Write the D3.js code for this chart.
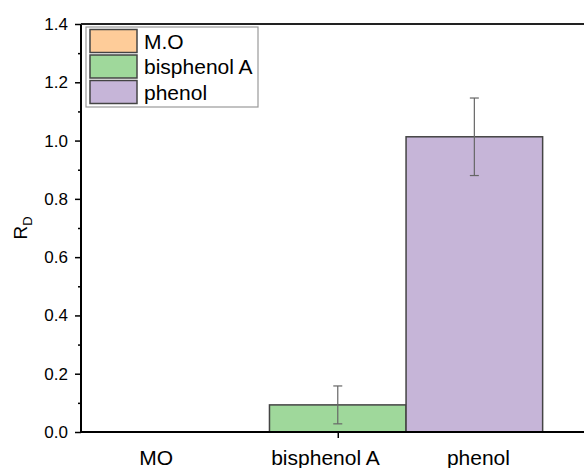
<!DOCTYPE html>
<html>
<head>
<meta charset="utf-8">
<script src="https://cdn.jsdelivr.net/npm/d3@7"></script>
<style>
  body { margin: 0; background: #fff; }
  text { font-family: Arial, "Liberation Sans", sans-serif; fill: #000; }
</style>
</head>
<body>
<div id="plot"></div>
<script>
// series / values
var series = ["M.O", "bisphenol A", "phenol"];
var values = [0, 0.093, 1.013];
var errors = [0, 0.065, 0.133];
var colors = ["#fecc99", "#9fd89b", "#c6b5d8"];
// bar offsets within the single group (group centre = 0)
var offsets = [-1, 0, 1];
// category labels under the axis and where they sit (axis units)
var catLabels = ["MO", "bisphenol A", "phenol"];
var catAt = [-1.33, -0.09, 1.03];
var yTicks = [0, 0.2, 0.4, 0.6, 0.8, 1.0, 1.2, 1.4];

var W = 584, H = 468;
var plotLeft = 81, plotTop = 24, plotBottom = 432;

var svg = d3.select("div#plot")
  .append("svg")
    .attr("width", W)
    .attr("height", H);

var x = d3.scaleLinear().domain([-1.88, 1.92]).range([plotLeft, 600]);
var y = d3.scaleLinear().domain([0, 1.4]).range([plotBottom, plotTop]);

var bw = x(0.5) - x(-0.5);

// bars
svg.selectAll(".bar")
  .data(values)
  .enter().append("rect")
    .attr("class", "bar")
    .attr("x", function(d, i) { return x(offsets[i] - 0.5); })
    .attr("y", function(d) { return y(d); })
    .attr("width", bw)
    .attr("height", function(d) { return y(0) - y(d); })
    .attr("fill", function(d, i) { return colors[i]; })
    .attr("stroke", function(d) { return d > 0 ? "#444" : "none"; })
    .attr("stroke-width", 1.5);

// error bars
var eb = svg.selectAll(".err")
  .data(values.map(function(v, i) { return {v: v, e: errors[i], o: offsets[i]}; })
    .filter(function(d) { return d.e > 0; }))
  .enter().append("g")
    .attr("class", "err")
    .attr("stroke", "#666")
    .attr("stroke-width", 1.2);
eb.append("line")
  .attr("x1", function(d) { return x(d.o); })
  .attr("x2", function(d) { return x(d.o); })
  .attr("y1", function(d) { return y(d.v + d.e); })
  .attr("y2", function(d) { return y(d.v - d.e); });
eb.selectAll(".cap")
  .data(function(d) { return [d.v + d.e, d.v - d.e].map(function(t) { return {o: d.o, t: t}; }); })
  .enter().append("line")
    .attr("x1", function(d) { return x(d.o) - 4.5; })
    .attr("x2", function(d) { return x(d.o) + 4.5; })
    .attr("y1", function(d) { return y(d.t); })
    .attr("y2", function(d) { return y(d.t); });

// y axis with minor ticks
var yAxis = d3.axisLeft(y).tickValues(yTicks).tickFormat(d3.format(".1f"))
  .tickSize(6).tickPadding(7);
var yMinor = d3.axisLeft(y).tickValues(d3.range(0.1, 1.4, 0.2)).tickFormat("").tickSize(3);

var gy = svg.append("g").attr("transform", "translate(" + plotLeft + ",0)").call(yAxis);
gy.selectAll("text").style("font-size", "17px").attr("font-family", null);
gy.select(".domain").remove();
gy.selectAll("line").attr("stroke", "#000").attr("stroke-width", 1.5);
var gym = svg.append("g").attr("transform", "translate(" + plotLeft + ",0)").call(yMinor);
gym.select(".domain").remove();
gym.selectAll("line").attr("stroke", "#000").attr("stroke-width", 1.5);

// x axis: single tick at group centre
var xAxis = d3.axisBottom(x).tickValues([0]).tickFormat("").tickSize(6);
var gx = svg.append("g").attr("transform", "translate(0," + plotBottom + ")").call(xAxis);
gx.select(".domain").remove();
gx.selectAll("line").attr("stroke", "#000").attr("stroke-width", 1.5);

// frame lines
svg.append("line").attr("x1", plotLeft).attr("x2", W).attr("y1", plotBottom).attr("y2", plotBottom)
  .attr("stroke", "#000").attr("stroke-width", 2);
svg.append("line").attr("x1", plotLeft).attr("x2", plotLeft).attr("y1", plotTop).attr("y2", plotBottom)
  .attr("stroke", "#000").attr("stroke-width", 2);
svg.append("line").attr("x1", plotLeft).attr("x2", W).attr("y1", plotTop).attr("y2", plotTop)
  .attr("stroke", "#222").attr("stroke-width", 2);

// category labels
svg.selectAll(".cat")
  .data(catLabels)
  .enter().append("text")
    .attr("class", "cat")
    .attr("x", function(d, i) { return x(catAt[i]); })
    .attr("y", 465)
    .attr("text-anchor", "middle")
    .style("font-size", "21px")
    .text(function(d) { return d; });

// y label R_D
var yl = svg.append("text")
  .attr("transform", "translate(27," + 228 + ") rotate(-90)")
  .attr("text-anchor", "middle")
  .style("font-size", "19px");
yl.append("tspan").text("R");
yl.append("tspan").attr("dy", 5).style("font-size", "13px").text("D");

// legend
var lg = svg.append("g").attr("transform", "translate(86,27)");
lg.append("rect").attr("width", 172).attr("height", 80)
  .attr("fill", "#fff").attr("stroke", "#999").attr("stroke-width", 1.2);
var item = lg.selectAll(".li")
  .data(series)
  .enter().append("g")
    .attr("class", "li")
    .attr("transform", function(d, i) { return "translate(4," + (2.5 + i * 25.5) + ")"; });
item.append("rect")
  .attr("width", 47).attr("height", 23)
  .attr("fill", function(d, i) { return colors[i]; })
  .attr("stroke", "#444").attr("stroke-width", 1.5);
item.append("text")
  .attr("x", 54).attr("y", 19)
  .style("font-size", "21px")
  .text(function(d) { return d; });
</script>
</body>
</html>
